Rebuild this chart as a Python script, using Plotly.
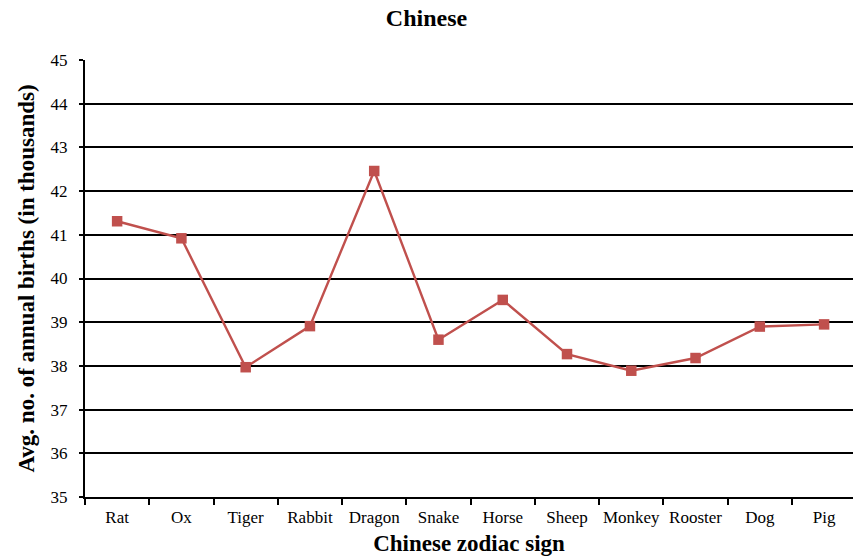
import plotly.graph_objects as go

# Average annual births per Chinese zodiac sign (thousands)
signs = ["Rat", "Ox", "Tiger", "Rabbit", "Dragon", "Snake",
         "Horse", "Sheep", "Monkey", "Rooster", "Dog", "Pig"]
births = [41.31, 40.92, 37.97, 38.91, 42.46, 38.60,
          39.51, 38.27, 37.89, 38.18, 38.90, 38.95]
y_ticks = [35, 36, 37, 38, 39, 40, 41, 42, 43, 44, 45]

serif = "Liberation Serif, Times New Roman, serif"
line_red = "#C0504D"

fig = go.Figure(
    go.Scatter(
        x=signs,
        y=births,
        mode="lines+markers",
        line=dict(color=line_red, width=2.4),
        marker=dict(symbol="square", size=10.5, color=line_red),
        showlegend=False,
    )
)

fig.update_layout(
    width=853,
    height=557,
    margin=dict(l=85, r=0, t=60, b=60),
    paper_bgcolor="white",
    plot_bgcolor="white",
    font=dict(family=serif, color="black", size=17),
    title=dict(
        text="<b>Chinese</b>",
        x=0.5,
        xref="container",
        xanchor="center",
        y=1 - 18 / 557,
        yanchor="middle",
        font=dict(family=serif, size=24, color="black"),
    ),
)

fig.update_xaxes(
    type="category",
    range=[-0.5, 11.45],
    showline=True,
    linecolor="black",
    linewidth=2,
    ticks="outside",
    tickson="boundaries",
    ticklen=6,
    tickwidth=1.5,
    tickcolor="black",
    showgrid=False,
    tickangle=0,
    ticklabelstandoff=4,
    tickfont=dict(family=serif, size=17, color="black"),
    title=dict(
        text="<b>Chinese zodiac sign</b>",
        font=dict(family=serif, size=23, color="black"),
        standoff=8,
    ),
)

fig.update_yaxes(
    range=[35, 45],
    tickvals=y_ticks,
    showline=True,
    linecolor="black",
    linewidth=2,
    ticks="outside",
    ticklen=4,
    tickwidth=2,
    tickcolor="black",
    showgrid=True,
    gridcolor="black",
    gridwidth=2,
    zeroline=False,
    ticklabelstandoff=8,
    tickfont=dict(family=serif, size=17, color="black"),
    title=dict(
        text="<b>Avg. no. of annual births (in thousands)</b>",
        font=dict(family=serif, size=23, color="black"),
        standoff=10,
    ),
)

fig.write_html("out.html")
